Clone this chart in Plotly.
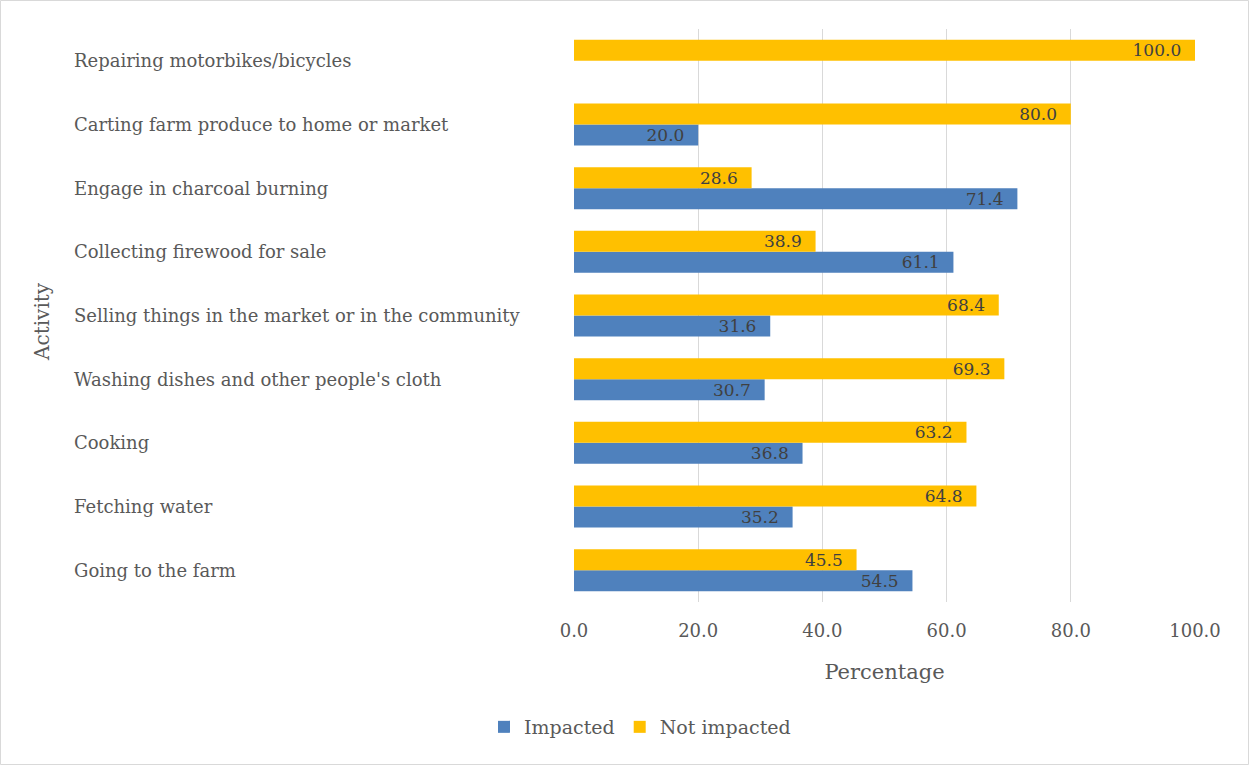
import plotly.graph_objects as go

# Activities, listed from the bottom of the chart to the top
activities = [
    "Going to the farm",
    "Fetching water",
    "Cooking",
    "Washing dishes and other people's cloth",
    "Selling things in the market or in the community",
    "Collecting firewood for sale",
    "Engage in charcoal burning",
    "Carting farm produce to home or market",
    "Repairing motorbikes/bicycles",
]
impacted = [54.5, 35.2, 36.8, 30.7, 31.6, 61.1, 71.4, 20.0, 0.0]
not_impacted = [45.5, 64.8, 63.2, 69.3, 68.4, 38.9, 28.6, 80.0, 100.0]
x_ticks = [0, 20, 40, 60, 80, 100]

FONT = "DejaVu Serif"
GREY = "#595959"
W, H = 1250, 766
L, R, T, B = 574, 55, 29, 164
pw, ph = W - L - R, H - T - B


def labels(vals):
    # value labels with a little padding before the bar end; none for empty bars
    return [f"{v:.1f}\u00a0\u00a0" if v > 0 else "" for v in vals]


fig = go.Figure()
fig.add_trace(go.Bar(
    y=activities, x=impacted, name="Impacted", orientation="h",
    marker=dict(color="#4F81BD", line=dict(width=0)),
    text=labels(impacted), textposition="inside", insidetextanchor="end",
    textfont=dict(family=FONT, size=17, color="#404040"),
    constraintext="none",
))
fig.add_trace(go.Bar(
    y=activities, x=not_impacted, name="Not impacted", orientation="h",
    marker=dict(color="#FFC000", line=dict(width=0)),
    text=labels(not_impacted), textposition="inside", insidetextanchor="end",
    textfont=dict(family=FONT, size=17, color="#404040"),
    constraintext="none",
))

# Left-aligned category labels
for a in activities:
    fig.add_annotation(
        x=(72 - L) / pw, xref="paper", y=a, yref="y",
        text=a, showarrow=False, xanchor="left", yanchor="middle",
        font=dict(family=FONT, size=18, color=GREY),
    )

# Vertical axis title
fig.add_annotation(
    x=(42 - L) / pw, xref="paper", y=(H - B - 322) / ph, yref="paper",
    text="Activity", showarrow=False, textangle=-90,
    xanchor="center", yanchor="middle",
    font=dict(family=FONT, size=20, color=GREY),
)

# Chart border
fig.add_shape(
    type="rect", xref="paper", yref="paper",
    x0=(0.5 - L) / pw, x1=(W - 1.5 - L) / pw,
    y0=-(H - 1.5 - T - ph) / ph, y1=1 + (T - 0.5) / ph,
    line=dict(color="#D9D9D9", width=1), fillcolor="rgba(0,0,0,0)",
)

fig.update_layout(
    width=W, height=H,
    margin=dict(l=L, r=R, t=T, b=B),
    paper_bgcolor="white", plot_bgcolor="white",
    barmode="group", bargap=0.34, bargroupgap=0,
    font=dict(family=FONT, color=GREY),
    showlegend=True,
    legend=dict(
        orientation="h", x=(640 - L) / pw, xanchor="center",
        y=-(727 - T - ph) / ph, yanchor="middle",
        font=dict(family=FONT, size=19, color=GREY),
        itemwidth=30, traceorder="normal",
    ),
    xaxis=dict(
        range=[0, 100], tickvals=x_ticks,
        ticktext=[f"{v:.1f}" for v in x_ticks],
        showgrid=True, gridcolor="#D9D9D9", gridwidth=1,
        zeroline=False, showline=False, ticks="",
        ticklabelstandoff=16,
        tickfont=dict(family=FONT, size=18, color=GREY),
        title=dict(text="Percentage", standoff=24,
                   font=dict(family=FONT, size=21, color=GREY)),
    ),
    yaxis=dict(
        showticklabels=False, showgrid=False, zeroline=False,
        showline=False, ticks="",
    ),
)

fig.write_html("out.html")
